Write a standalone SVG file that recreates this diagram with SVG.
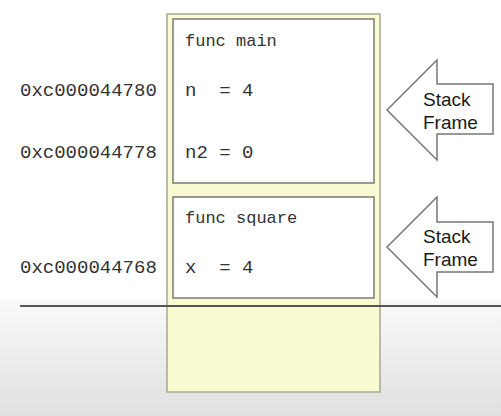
<svg xmlns="http://www.w3.org/2000/svg" width="501" height="416" viewBox="0 0 501 416">
<defs>
<linearGradient id="floor" x1="0" y1="0" x2="0" y2="1">
<stop offset="0" stop-color="#f9f9f9"/>
<stop offset="1" stop-color="#e0e0e0"/>
</linearGradient>
<style>
.mono{font-family:"Liberation Mono","Courier New",monospace;fill:#333;}
.addr{font-size:19px;}
.val{font-size:19px;}
.fn{font-size:17px;}
.frame{fill:#fff;stroke:#7a7a7a;stroke-width:1.5;}
.arrow{fill:#fff;stroke:#777;stroke-width:1.5;stroke-linejoin:miter;}
.lbl{font-family:"Liberation Sans",Arial,sans-serif;font-size:19px;fill:#1a1a1a;}
</style>
</defs>
<rect x="0" y="0" width="501" height="416" fill="#fff"/>
<rect x="0" y="300" width="501" height="116" fill="url(#floor)"/>
<g id="stack">
<rect x="167" y="14" width="213" height="378" fill="#fafad2" stroke="#a8a890" stroke-width="1.5"/>
</g>
<g id="frame-main">
<rect class="frame" x="173" y="19" width="201" height="164"/>
<text class="mono fn" x="185" y="46">func main</text>
<text class="mono val" x="185" y="96" xml:space="preserve">n  = 4</text>
<text class="mono val" x="185" y="158">n2 = 0</text>
</g>
<g id="frame-square">
<rect class="frame" x="173" y="197" width="201" height="101"/>
<text class="mono fn" x="185" y="223">func square</text>
<text class="mono val" x="185" y="273" xml:space="preserve">x  = 4</text>
</g>
<g id="addresses">
<text class="mono addr" x="20" y="96">0xc000044780</text>
<text class="mono addr" x="20" y="158">0xc000044778</text>
<text class="mono addr" x="20" y="273">0xc000044768</text>
</g>
<g id="connectors">
<line x1="20" y1="306" x2="501" y2="306" stroke="#555" stroke-width="2"/>
</g>
<g id="arrow-main">
<polygon class="arrow" points="387,110 437,60 437,84 493,84 493,134 437,134 437,160"/>
<text class="lbl" x="423" y="106">Stack</text>
<text class="lbl" x="423" y="129">Frame</text>
</g>
<g id="arrow-square">
<polygon class="arrow" points="387,247 437,197 437,222 493,222 493,272 437,272 437,297"/>
<text class="lbl" x="423" y="243">Stack</text>
<text class="lbl" x="423" y="266">Frame</text>
</g>
</svg>
